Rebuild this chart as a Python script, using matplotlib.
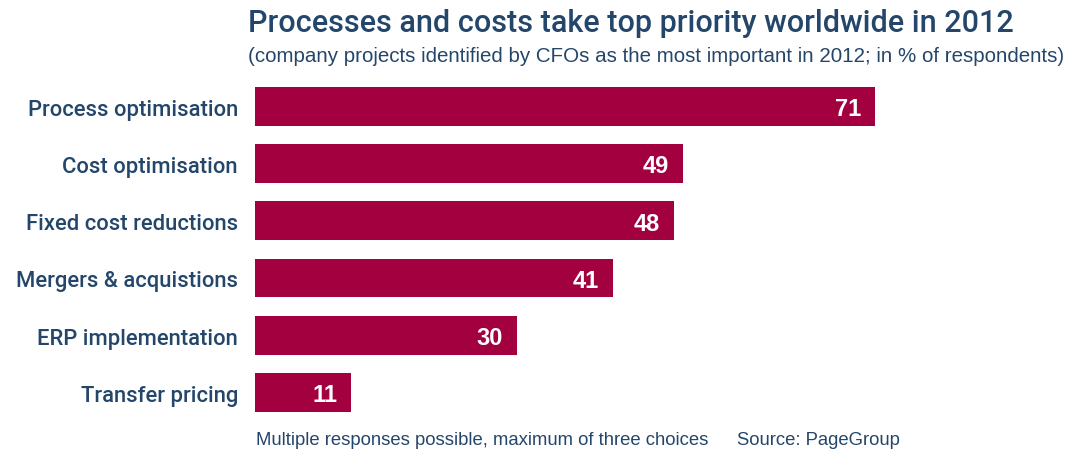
import matplotlib.pyplot as plt

# --- данные ---
categories = ['Process optimisation', 'Cost optimisation', 'Fixed cost reductions',
              'Mergers & acquistions', 'ERP implementation', 'Transfer pricing']
values = [71, 49, 48, 41, 30, 11]

bar_color = '#a3003f'
text_color = '#24466b'

fig = plt.figure(figsize=(10.72, 4.52), dpi=100)
ax = fig.add_axes([255 / 1072, 0.0664, 620 / 1072, 0.7590])

pos = list(range(len(categories)))
bars = ax.barh(pos, values, height=0.68, color=bar_color)
ax.set_xlim(0, 71)
ax.set_ylim(5.5, -0.5)

for s in ax.spines.values():
    s.set_visible(False)
ax.set_xticks([])
ax.set_yticks([])

# подписи категорий
for y, name in zip(pos, categories):
    ax.text(-17 / 620 * 71, y + 0.05, name, ha='right', va='center',
            fontsize=15.8, fontweight='medium', color=text_color, family='Roboto')

# значения внутри столбцов
for y, v in zip(pos, values):
    ax.text(v - 14 / 620 * 71, y + 0.04, str(v), ha='right', va='center',
            fontsize=17, fontweight='bold', color='white', family='Liberation Sans')

fig.text(248 / 1072, 1 - 23 / 452, 'Processes and costs take top priority worldwide in 2012',
         ha='left', va='center', fontsize=22, fontweight='medium', color=text_color,
         family='Roboto')
fig.text(248 / 1072, 1 - 56 / 452,
         '(company projects identified by CFOs as the most important in 2012; in % of respondents)',
         ha='left', va='center', fontsize=14.8, color=text_color, family='Liberation Sans')
fig.text(256 / 1072, 1 - 441 / 452, 'Multiple responses possible, maximum of three choices',
         ha='left', va='center', fontsize=13.3, color=text_color, family='Liberation Sans')
fig.text(737 / 1072, 1 - 441 / 452, 'Source: PageGroup',
         ha='left', va='center', fontsize=13.3, color=text_color, family='Liberation Sans')

fig.savefig('out.png', dpi=100)
